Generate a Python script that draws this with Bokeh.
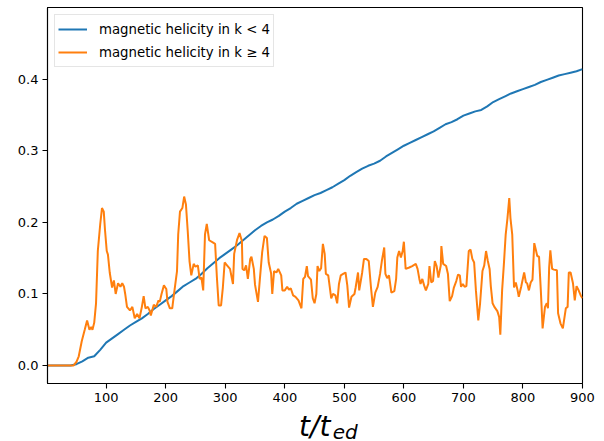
from bokeh.plotting import figure
from bokeh.layouts import column
from bokeh.models import FixedTicker, PrintfTickFormatter, Legend, LegendItem, Label, Range1d
from bokeh.embed import file_html
from bokeh.resources import INLINE

# ---- data ----
blue_t = [1, 10, 20, 30, 40, 50, 60, 70, 80, 90, 100, 110, 120, 130, 140, 150, 160, 170, 180, 190,
          200, 210, 220, 230, 240, 250, 260, 270, 280, 290, 300, 310, 320, 330, 340, 350, 360, 370,
          380, 390, 400, 410, 420, 430, 440, 450, 460, 470, 480, 490, 500, 510, 520, 530, 540, 550,
          560, 570, 580, 590, 600, 610, 620, 630, 640, 650, 660, 670, 680, 690, 700, 710, 720, 730,
          740, 750, 760, 770, 780, 790, 800, 810, 820, 830, 840, 850, 860, 870, 880, 890, 900]
blue_h = [0.0, 0.0, 0.0, 0.0, 0.0, 0.002, 0.006, 0.011, 0.013, 0.022, 0.032, 0.038, 0.044, 0.050,
          0.056, 0.061, 0.066, 0.072, 0.079, 0.085, 0.091, 0.097, 0.104, 0.111, 0.116, 0.121, 0.128,
          0.136, 0.143, 0.150, 0.156, 0.162, 0.168, 0.175, 0.182, 0.189, 0.195, 0.200, 0.204, 0.209,
          0.215, 0.220, 0.226, 0.230, 0.234, 0.238, 0.241, 0.245, 0.249, 0.254, 0.259, 0.265, 0.270,
          0.275, 0.279, 0.282, 0.286, 0.292, 0.297, 0.302, 0.307, 0.311, 0.315, 0.319, 0.323, 0.327,
          0.332, 0.337, 0.340, 0.344, 0.349, 0.352, 0.355, 0.357, 0.362, 0.368, 0.372, 0.376, 0.380,
          0.383, 0.386, 0.389, 0.392, 0.396, 0.399, 0.402, 0.405, 0.407, 0.409, 0.411, 0.414]

orange_t = [1, 45, 50, 54, 59, 64, 68, 72, 75, 77, 80, 83, 86, 90, 93, 96, 98, 101, 103, 106, 110,
            113, 116, 120, 124, 127, 130, 132, 135, 140, 144, 148, 152, 156, 160, 163, 166, 170, 173,
            175, 180, 184, 188, 190, 193, 197, 201, 203, 207, 211, 214, 219, 221, 224, 228, 231, 234,
            237, 240, 243, 247, 250, 254, 257, 260, 263, 266, 269, 273, 279, 283, 286, 289, 293, 296,
            299, 303, 308, 313, 315, 320, 324, 328, 329, 332, 335, 338, 342, 344, 348, 350, 355, 358,
            362, 366, 370, 373, 377, 379, 382, 386, 389, 394, 396, 400, 404, 407, 410, 414, 418, 423,
            428, 431, 434, 437, 439, 444, 447, 450, 453, 455, 458, 461, 464, 467, 469, 473, 478, 481,
            485, 488, 491, 494, 498, 502, 505, 508, 512, 517, 519, 523, 525, 530, 533, 537, 541, 545,
            548, 552, 556, 560, 563, 567, 569, 572, 575, 579, 584, 587, 589, 592, 595, 598, 600, 603,
            609, 614, 620, 623, 626, 628, 631, 634, 637, 641, 643, 646, 649, 652, 655, 658, 662, 663,
            666, 671, 674, 677, 681, 684, 688, 691, 694, 696, 699, 702, 705, 709, 712, 715, 718, 721,
            725, 728, 732, 735, 738, 741, 744, 746, 749, 752, 757, 760, 762, 765, 768, 771, 774, 777,
            779, 782, 785, 788, 791, 793, 797, 802, 805, 807, 810, 813, 816, 819, 821, 824, 827, 830,
            833, 837, 840, 842, 844, 846, 849, 852, 857, 859, 863, 867, 872, 875, 877, 880, 884, 887,
            890, 893, 897, 900]
orange_h = [0.0, 0.0, 0.005, 0.013, 0.034, 0.05, 0.063, 0.05, 0.054, 0.05, 0.06, 0.087, 0.16, 0.197,
            0.22, 0.215, 0.19, 0.16, 0.155, 0.13, 0.109, 0.119, 0.1, 0.115, 0.11, 0.115, 0.11, 0.1,
            0.082, 0.077, 0.082, 0.066, 0.072, 0.066, 0.082, 0.097, 0.08, 0.082, 0.077, 0.07, 0.085,
            0.082, 0.091, 0.089, 0.1, 0.112, 0.107, 0.089, 0.08, 0.08, 0.1, 0.132, 0.183, 0.215, 0.22,
            0.236, 0.225, 0.188, 0.146, 0.126, 0.142, 0.138, 0.14, 0.121, 0.123, 0.105, 0.183, 0.198,
            0.175, 0.172, 0.17, 0.123, 0.084, 0.084, 0.109, 0.144, 0.14, 0.135, 0.114, 0.156, 0.176,
            0.185, 0.174, 0.135, 0.133, 0.14, 0.121, 0.149, 0.152, 0.135, 0.113, 0.089, 0.119, 0.158,
            0.181, 0.178, 0.144, 0.129, 0.1, 0.132, 0.13, 0.135, 0.126, 0.105, 0.105, 0.11, 0.106,
            0.108, 0.098, 0.096, 0.091, 0.08, 0.121, 0.124, 0.139, 0.125, 0.12, 0.094, 0.087, 0.1,
            0.139, 0.132, 0.136, 0.17, 0.156, 0.128, 0.126, 0.094, 0.1, 0.098, 0.087, 0.114, 0.126,
            0.128, 0.13, 0.112, 0.081, 0.096, 0.1, 0.109, 0.13, 0.105, 0.13, 0.149, 0.149, 0.146,
            0.107, 0.082, 0.102, 0.11, 0.128, 0.146, 0.165, 0.128, 0.122, 0.126, 0.102, 0.104, 0.121,
            0.151, 0.16, 0.151, 0.16, 0.173, 0.135, 0.137, 0.139, 0.142, 0.135, 0.121, 0.114, 0.121,
            0.112, 0.105, 0.114, 0.139, 0.116, 0.118, 0.146, 0.139, 0.123, 0.14, 0.167, 0.142, 0.139,
            0.128, 0.09, 0.097, 0.109, 0.118, 0.127, 0.126, 0.11, 0.114, 0.11, 0.111, 0.16, 0.162,
            0.149, 0.144, 0.105, 0.063, 0.087, 0.132, 0.14, 0.16, 0.146, 0.135, 0.111, 0.087, 0.082,
            0.076, 0.068, 0.043, 0.105, 0.142, 0.183, 0.206, 0.234, 0.206, 0.183, 0.109, 0.116, 0.105,
            0.096, 0.11, 0.13, 0.116, 0.115, 0.105, 0.116, 0.12, 0.171, 0.164, 0.153, 0.152, 0.105,
            0.052, 0.082, 0.087, 0.08, 0.137, 0.161, 0.135, 0.134, 0.133, 0.073, 0.059, 0.052, 0.08,
            0.082, 0.13, 0.13, 0.115, 0.091, 0.111, 0.106, 0.098, 0.094]

x_ticks = [100, 200, 300, 400, 500, 600, 700, 800, 900]
y_ticks = [0.0, 0.1, 0.2, 0.3, 0.4]
labels = ["magnetic helicity in k < 4", "magnetic helicity in k \u2265 4"]
xlabel_main = "t/t"
xlabel_sub = "ed"

p = figure(width=604, height=410, output_backend="svg", toolbar_location=None,
           x_range=Range1d(1.5, 900), y_range=Range1d(-0.025, 0.5),
           min_border_left=47, min_border_right=22, min_border_top=7, min_border_bottom=27)
p.background_fill_color = "white"
p.border_fill_color = "white"
p.grid.visible = False
p.outline_line_color = "black"
p.outline_line_width = 1.1

for ax in (p.xaxis[0], p.yaxis[0]):
    ax.axis_line_color = "black"
    ax.axis_line_width = 1.1
    ax.major_tick_line_color = "black"
    ax.major_tick_line_width = 1.1
    ax.major_tick_out = 5
    ax.major_tick_in = 0
    ax.minor_tick_line_color = None
    ax.major_label_text_font = "DejaVu Sans"
    ax.major_label_text_font_size = "13px"
    ax.major_label_text_color = "black"
    ax.major_label_standoff = 4

p.xaxis.ticker = FixedTicker(ticks=x_ticks)
p.yaxis.ticker = FixedTicker(ticks=y_ticks)
p.yaxis.formatter = PrintfTickFormatter(format="%.1f")

r1 = p.line(blue_t, blue_h, line_color="#1f77b4", line_width=2)
r2 = p.line(orange_t, orange_h, line_color="#ff7f0e", line_width=2)

legend = Legend(items=[LegendItem(label=labels[0], renderers=[r1]),
                       LegendItem(label=labels[1], renderers=[r2])],
                location="top_left", margin=7, padding=3, spacing=1,
                label_height=22, glyph_height=22, glyph_width=29, label_standoff=12,
                label_text_font="DejaVu Sans", label_text_font_size="13.3px",
                label_text_color="black",
                border_line_color="#cccccc", border_line_width=1,
                background_fill_color="white", background_fill_alpha=0.8)
p.add_layout(legend, "center")

# x-axis label strip (t/t with subscript ed)
q = figure(width=604, height=31, output_backend="svg", toolbar_location=None,
           x_range=Range1d(0, 604), y_range=Range1d(0, 31),
           min_border_left=0, min_border_right=0, min_border_top=0, min_border_bottom=0)
q.axis.visible = False
q.grid.visible = False
q.outline_line_color = None
q.background_fill_color = "white"
q.border_fill_color = "white"
q.add_layout(Label(x=284, y=15, text=xlabel_main, text_font="DejaVu Sans",
                   text_font_style="italic", text_font_size="28px", text_color="black",
                   text_baseline="alphabetic"))
q.add_layout(Label(x=322, y=10, text=xlabel_sub, text_font="DejaVu Sans",
                   text_font_style="italic", text_font_size="20px", text_color="black",
                   text_baseline="alphabetic"))

layout = column(p, q, spacing=0)
open("out.html", "w").write(file_html(layout, INLINE))
